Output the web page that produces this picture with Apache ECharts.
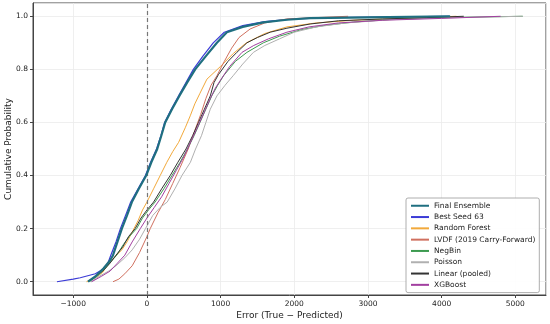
<!DOCTYPE html>
<html>
<head>
<meta charset="utf-8">
<script src="https://cdn.jsdelivr.net/npm/echarts@6/dist/echarts.min.js"></script>
<style>html,body{margin:0;padding:0;background:#fff}#c{width:550px;height:324px}</style>
</head>
<body>
<div id="c"></div>
<script>
// [error, cumulative probability] pairs
var seriesNames = ["Final Ensemble","Best Seed 63","Random Forest","LVDF (2019 Carry-Forward)","NegBin","Poisson","Linear (pooled)","XGBoost"];
var finalEnsemble = [[-800,0],[-700,0.02],[-590,0.05],[-500,0.08],[-460,0.1],[-400,0.15],[-340,0.2],[-270,0.25],[-204,0.3],[-110,0.35],[-10,0.4],[60,0.45],[140,0.5],[195,0.55],[248,0.6],[340,0.65],[440,0.7],[545,0.75],[655,0.8],[800,0.85],[950,0.9],[1085,0.94],[1300,0.96],[1580,0.977],[1900,0.987],[2215,0.993],[3000,0.996],[4115,1.0]];
var bestSeed = [[-1221,0],[-1000,0.01],[-905,0.015],[-700,0.03],[-580,0.05],[-530,0.07],[-490,0.1],[-420,0.15],[-360,0.2],[-290,0.25],[-220,0.3],[-120,0.35],[-20,0.4],[50,0.45],[130,0.5],[190,0.55],[240,0.6],[330,0.65],[430,0.7],[530,0.75],[630,0.8],[760,0.85],[900,0.9],[1050,0.94],[1300,0.965],[1600,0.98],[2000,0.99],[2500,0.995],[4100,1.0]];
var randomForest = [[-820,0],[-700,0.015],[-600,0.035],[-543,0.06],[-450,0.09],[-340,0.12],[-270,0.15],[-204,0.185],[-120,0.23],[-60,0.27],[0,0.3],[90,0.35],[180,0.4],[270,0.45],[350,0.49],[430,0.525],[520,0.58],[588,0.625],[650,0.67],[720,0.71],[814,0.763],[995,0.81],[1173,0.86],[1350,0.9],[1600,0.935],[1900,0.96],[2300,0.975],[2800,0.985],[3500,0.993],[4200,1.0]];
var lvdf = [[-460,0],[-380,0.01],[-300,0.03],[-200,0.06],[-100,0.11],[0,0.17],[45,0.2],[150,0.26],[250,0.31],[350,0.37],[450,0.43],[560,0.5],[650,0.57],[730,0.63],[800,0.69],[870,0.74],[950,0.776],[1050,0.83],[1150,0.88],[1250,0.92],[1400,0.952],[1600,0.975],[1900,0.99],[2300,0.995],[2730,1.0]];
var negBin = [[-780,0],[-680,0.02],[-580,0.045],[-490,0.075],[-410,0.1],[-320,0.14],[-240,0.17],[-140,0.2],[-60,0.24],[20,0.27],[110,0.3],[230,0.35],[340,0.4],[450,0.45],[550,0.5],[640,0.55],[720,0.6],[800,0.65],[880,0.7],[960,0.74],[1040,0.776],[1200,0.83],[1357,0.864],[1580,0.9],[1800,0.925],[2100,0.95],[2400,0.965],[2800,0.978],[3300,0.988],[4000,0.995],[5100,1.0]];
var poisson = [[-760,0],[-650,0.02],[-520,0.04],[-420,0.06],[-300,0.09],[-200,0.12],[-100,0.16],[-20,0.2],[80,0.25],[180,0.28],[275,0.3],[380,0.35],[475,0.4],[590,0.45],[660,0.5],[740,0.55],[800,0.6],[860,0.65],[950,0.7],[1060,0.74],[1170,0.776],[1300,0.82],[1445,0.864],[1600,0.89],[1800,0.915],[2000,0.94],[2300,0.96],[2700,0.975],[3300,0.987],[4000,0.994],[5100,1.0]];
var linearPooled = [[-800,0],[-700,0.02],[-600,0.04],[-500,0.07],[-420,0.1],[-330,0.13],[-250,0.17],[-160,0.2],[-80,0.24],[0,0.27],[90,0.3],[200,0.35],[316,0.4],[420,0.45],[530,0.5],[620,0.55],[700,0.6],[780,0.65],[860,0.7],[910,0.75],[970,0.78],[1100,0.83],[1220,0.864],[1357,0.9],[1500,0.92],[1673,0.94],[1900,0.955],[2216,0.971],[2600,0.983],[3200,0.99],[3800,0.995],[4300,1.0]];
var xgboost = [[-750,0],[-620,0.02],[-500,0.04],[-400,0.07],[-300,0.1],[-200,0.15],[-90,0.2],[0,0.24],[100,0.28],[200,0.32],[300,0.37],[400,0.42],[500,0.47],[600,0.53],[700,0.59],[780,0.64],[860,0.69],[930,0.73],[1000,0.76],[1120,0.81],[1290,0.864],[1450,0.89],[1650,0.915],[1900,0.94],[2200,0.96],[2600,0.975],[3200,0.985],[4000,0.992],[4800,1.0]];
var xTicks = [-1000,0,1000,2000,3000,4000,5000];
var yTicks = [0,0.2,0.4,0.6,0.8,1.0];

var colors = ["#1f6f80","#3b3bd6","#f2a93b","#d0705f","#3d9a50","#b0b0b0","#333333","#a23fa0"];
var dataArr = [finalEnsemble,bestSeed,randomForest,lvdf,negBin,poisson,linearPooled,xgboost];
var widths = [2.2,1.2,1,1,1,1,1,1];
var font = "DejaVu Sans";

var series = [];
var order = [1,2,3,4,5,6,7,0];
order.forEach(function(i){
  series.push({
    name: seriesNames[i], type: 'line', data: dataArr[i], symbol: 'none', showSymbol: false,
    lineStyle: {color: colors[i], width: widths[i]}, itemStyle:{color: colors[i]},
    z: i === 0 ? 5 : 3, animation: false
  });
});
series[0].markLine = {
  silent: true, symbol: 'none', label: {show: false},
  lineStyle: {color: '#777', type: [4,3], width: 1.2},
  data: [{xAxis: 0}]
};

function fmtX(v){
  if (xTicks.indexOf(v) < 0) return '';
  return v < 0 ? '\u2212' + Math.abs(v) : String(v);
}
function fmtY(v){
  for (var k=0;k<yTicks.length;k++){ if (Math.abs(v-yTicks[k])<1e-9) return yTicks[k].toFixed(1); }
  return '';
}

var legendData = seriesNames.map(function(n, i){
  return {name: n, icon: 'rect', itemStyle: {color: colors[i]}};
});

var chart = echarts.init(document.getElementById('c'), null, {renderer:'canvas'});
chart.setOption({
  animation: false,
  backgroundColor: '#fff',
  grid: {left: 33, right: 4, top: 3, bottom: 29, show: true, borderColor: '#444', borderWidth: 1, backgroundColor: 'transparent', containLabel: false, outerBoundsMode: 'none'},
  xAxis: {
    type: 'value', min: -1546, max: 5416, splitNumber: 7,
    name: 'Error (True \u2212 Predicted)', nameLocation: 'middle', nameGap: 16, nameMoveOverlap: false,
    nameTextStyle: {fontFamily: font, fontSize: 9, color: '#222'},
    axisLine: {show: true, onZero: false, lineStyle: {color: '#444'}},
    axisTick: {show: true, length: 3, lineStyle:{color:'#444'}},
    axisLabel: {formatter: fmtX, fontFamily: font, fontSize: 7.5, color: '#222', margin: 5, showMinLabel:false, showMaxLabel:false},
    splitLine: {show: true, lineStyle: {color: '#ebebeb', width: 0.8}}
  },
  yAxis: {
    type: 'value', min: -0.05, max: 1.05, splitNumber: 5,
    name: 'Cumulative Probability', nameLocation: 'middle', nameGap: 20, nameMoveOverlap: false,
    nameTextStyle: {fontFamily: font, fontSize: 9, color: '#222'},
    axisLine: {show: true, onZero: false, lineStyle: {color: '#444'}},
    axisTick: {show: true, length: 3, lineStyle:{color:'#444'}},
    axisLabel: {formatter: fmtY, fontFamily: font, fontSize: 7.5, color: '#222', margin: 5, showMinLabel:false, showMaxLabel:false},
    splitLine: {show: true, lineStyle: {color: '#ebebeb', width: 0.8}}
  },
  legend: {
    data: legendData, orient: 'vertical', left: 406, top: 198,
    itemWidth: 18, itemHeight: 2, itemGap: 1.8,
    padding: [3, 4, 3, 5],
    borderColor: '#999', borderWidth: 0.8, borderRadius: 2,
    backgroundColor: 'rgba(255,255,255,0.9)',
    textStyle: {fontFamily: font, fontSize: 7.5, color: '#222', lineHeight: 9.5}
  },
  series: series
});
</script>
</body>
</html>
